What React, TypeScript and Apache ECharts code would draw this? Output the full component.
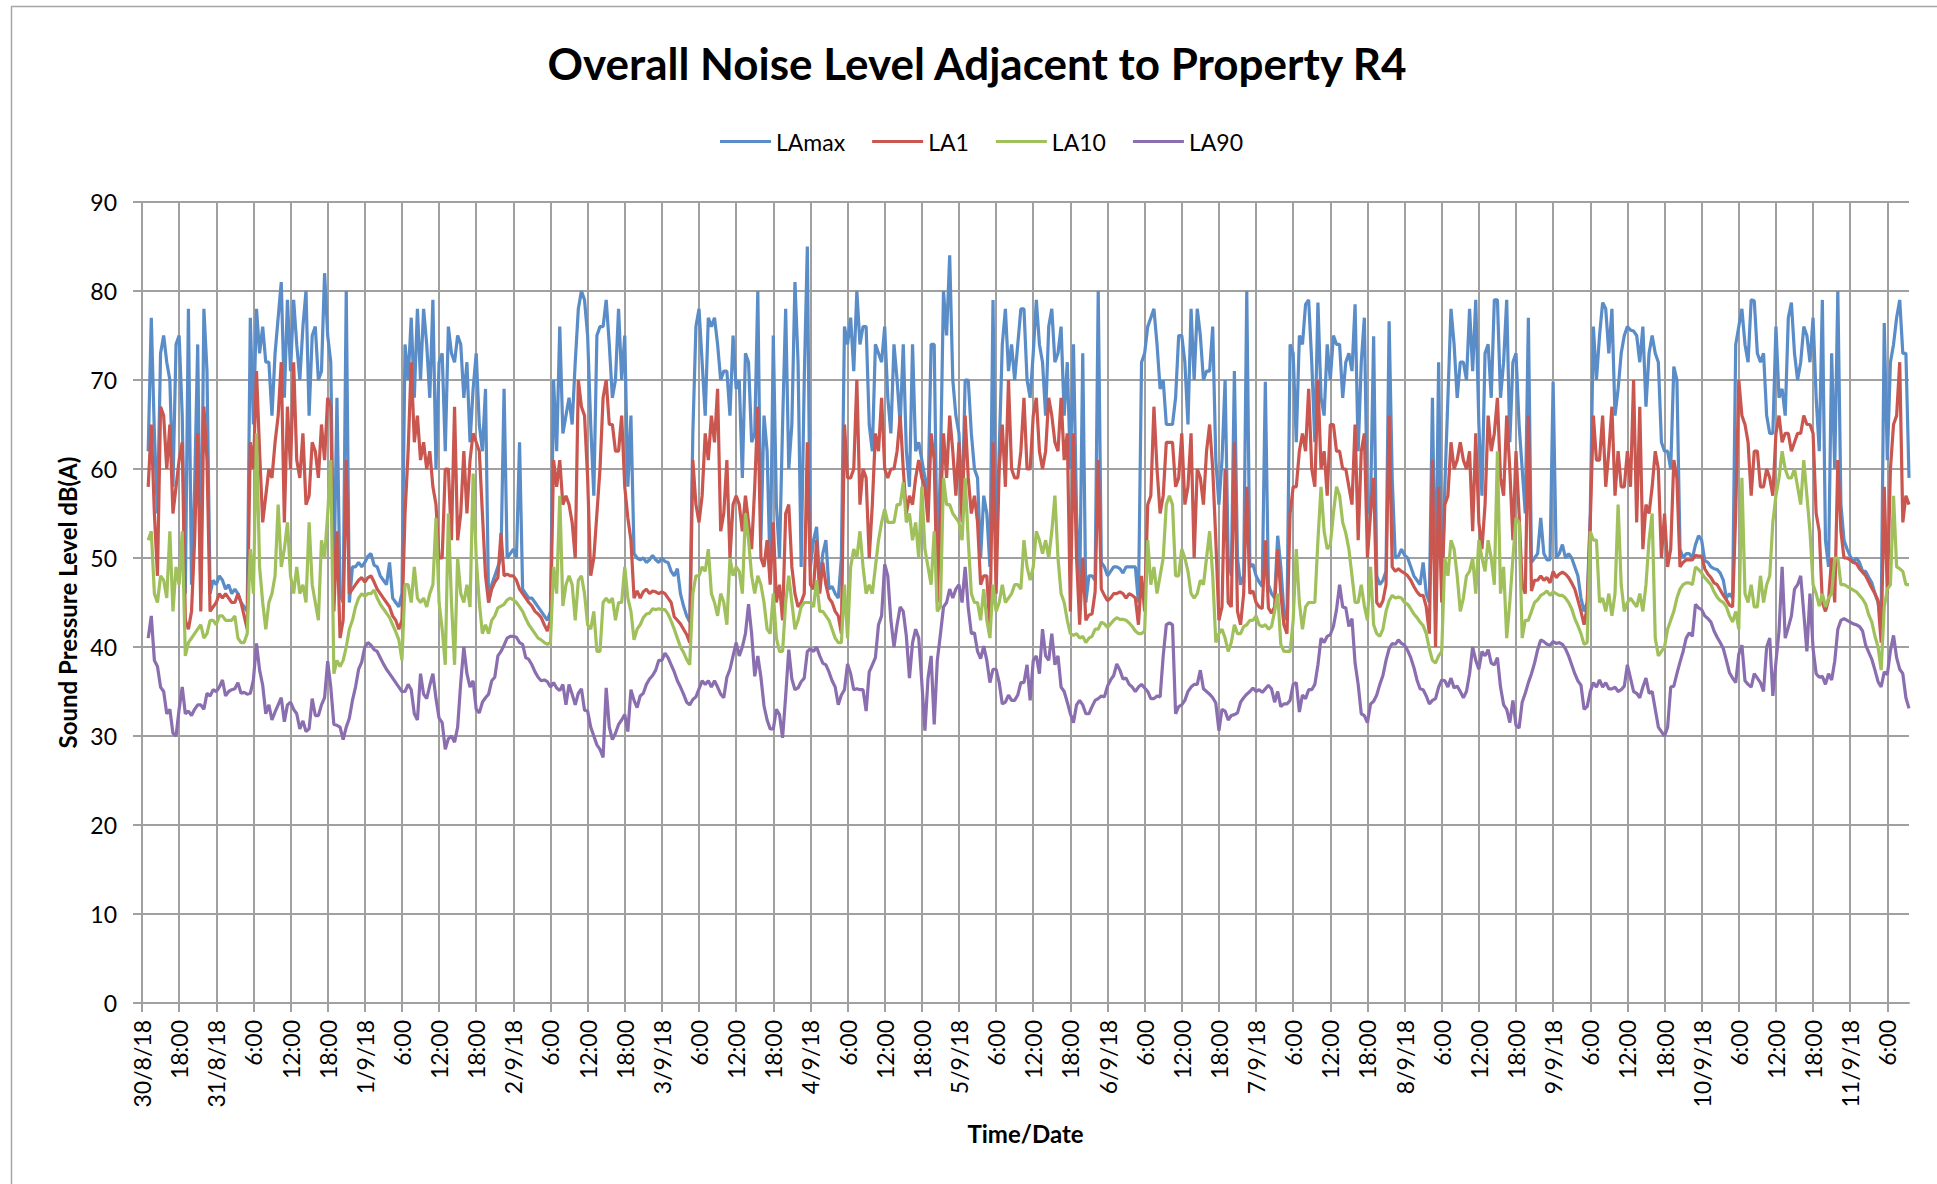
import React, { useEffect, useRef } from "react";
import * as echarts from "echarts";

// Tick labels shown every 6 hours (every 12th half-hour category)
const tickLabels = [
  "30/8/18", "18:00",
  "31/8/18", "6:00", "12:00", "18:00",
  "1/9/18", "6:00", "12:00", "18:00",
  "2/9/18", "6:00", "12:00", "18:00",
  "3/9/18", "6:00", "12:00", "18:00",
  "4/9/18", "6:00", "12:00", "18:00",
  "5/9/18", "6:00", "12:00", "18:00",
  "6/9/18", "6:00", "12:00", "18:00",
  "7/9/18", "6:00", "12:00", "18:00",
  "8/9/18", "6:00", "12:00", "18:00",
  "9/9/18", "6:00", "12:00", "18:00",
  "10/9/18", "6:00", "12:00", "18:00",
  "11/9/18", "6:00",
];

const dayNames = ["30/8", "31/8", "1/9", "2/9", "3/9", "4/9", "5/9", "6/9", "7/9", "8/9", "9/9", "10/9", "11/9"];

// Half-hourly readings, dB(A), starting 30/8/18 12:00
const LAmax = [
  null, null,
  62, 77, 64, 55, 73, 75, 72, 70, 58, 74,
  75, 66, 46, 78, 47, 58, 74, 46, 78, 71,
  46, 47.5, 47, 48, 47.5, 46.5, 47, 46, 46.5, 46,
  45, 44.5, 44, 77, 65, 78, 73, 76, 72, 72,
  66, 73, 77, 81, 68, 79, 71, 79, 74, 70,
  76, 80, 66, 75, 76, 70, 71, 82, 75, 72,
  47, 68, 46, 45, 80, 45, 49, 49, 49.5, 49,
  49.5, 50.2, 50.5, 49.2, 49, 48, 47.5, 47, 49.5, 45.5,
  45, 44.5, 46, 74, 70, 77, 68, 78, 70, 78,
  74, 68, 79, 60, 72, 73, 62, 76, 73, 72,
  75, 74, 68, 72, 63, 69, 73, 65, 62, 69,
  45, 47, 48, 49, 50, 69, 50, 50.5, 51, 50,
  63, 46.5, 46, 45.5, 45.5, 45, 44.5, 44, 43.5, 43,
  44, 70, 62, 76, 64, 66, 68, 65, 72, 78,
  80, 79, 75, 65, 57, 75, 76, 76, 79, 74,
  68, 70, 78, 70, 75, 58, 66, 50.5, 50, 49.8,
  50, 49.5, 49.8, 50.3, 49.8, 49.5, 50, 49.6, 49.5, 48.5,
  48, 48.8, 46, 44.6, 43.5, 42.8, 64, 76, 78, 72,
  66, 77, 76, 77, 74, 70, 71, 71, 66, 75,
  69, 70, 59, 73, 72, 63, 64, 80, 52, 66,
  62, 48, 75, 56, 50, 65, 78, 60, 65, 81,
  72, 49, 70, 85, 49, 52, 53.5, 47, 50.5, 52,
  46.5, 46.8, 46, 45.5, 50, 76, 74, 77, 71, 80,
  74, 76, 76, 65, 62, 74, 73, 72, 76, 68,
  64, 74, 70, 65, 74, 62, 58, 74, 62, 63,
  61, 59, 57, 74, 74, 49, 60, 80, 75, 84,
  70, 66, 64, 55, 70, 70, 64, 60, 59, 50,
  57, 55, 49, 79, 50, 62, 74, 78, 71, 74,
  70, 74, 78, 78, 70, 68, 73, 79, 74, 72,
  66, 76, 78, 72, 73, 76, 66, 72, 60, 74,
  55, 46, 73, 45, 48, 48, 47.5, 80, 49.5, 49,
  48, 48.5, 49, 49, 48.8, 48.3, 49, 49, 49, 49,
  45, 72, 73, 76, 77, 78, 74, 69, 70, 65,
  65, 65, 68, 75, 75, 72, 65, 78, 70, 78,
  75, 70, 71, 71, 76, 61, 56, 61, 70, 50,
  48, 71, 50, 47, 48, 80, 49, 49.3, 48, 47.3,
  46.8, 69.8, 47, 46, 45.5, 52.5, 49, 44, 43, 74,
  73, 63, 75, 74, 78.5, 79, 72, 63, 78.7, 68,
  66, 74, 70, 75, 74, 74, 68, 72, 73, 71,
  78.5, 62, 72, 77, 55, 56, 74.9, 48, 47, 47.5,
  48.5, 76.6, 59, 50, 50.2, 51, 50.3, 50, 49, 48,
  47.5, 47, 49.5, 46, 45, 68, 44, 72, 46, 58,
  68, 78, 74, 68, 72, 72, 70, 78, 71, 79,
  65, 57, 73, 74, 68, 79, 79, 68, 72, 79,
  63, 72, 73, 65, 60, 55, 77, 49.5, 50, 50.5,
  54.5, 50.5, 49.8, 49.8, 69.8, 50, 50.5, 51.5, 50, 50.5,
  50, 49, 48, 45.5, 44, 45, 55, 76, 70, 75,
  78.7, 78, 73, 78, 66, 69, 73, 75, 76, 75.6,
  75.5, 75, 72, 76, 67, 73, 75, 73, 72, 63,
  62, 62, 60, 71.5, 70, 51, 50, 50.5, 50.5, 50,
  51.5, 52.5, 52, 49.7, 49.5, 49, 48.8, 48.7, 48.3, 47.5,
  45.5, 46, 45.5, 74, 76, 78, 74, 72, 79, 78.9,
  73, 72, 73, 66, 64, 64, 76, 68, 69, 66,
  77, 78.7, 73, 70, 72, 76, 75, 72, 77, 68,
  62, 79, 52, 49, 73, 60, 80, 56, 52, 51,
  50.2, 49.5, 50, 49.5, 48.5, 48.5, 47.8, 47.2, 46, 45,
  43, 76.4, 61, 72, 74, 77, 79, 73, 73, 59,
];

const LA1 = [
  null, null,
  58, 65, 55, 48, 67, 66, 60, 65, 55, 58,
  61, 63, 43, 42, 44, 52, 64, 44, 67, 61,
  44, 44.5, 45, 46, 45.5, 46, 45.5, 45, 45, 46,
  45, 43.5, 42, 63, 60, 71, 62, 54, 57, 60,
  59, 63, 66, 72, 54, 67, 60, 72, 61, 59,
  64, 56, 57, 63, 62, 59, 65, 61, 68, 67,
  44, 53, 41, 43, 61, 46, 46.5, 47, 47.5, 47.8,
  47.3, 47.8, 48, 47.3, 46.5, 46, 45.5, 45, 44.5, 43.5,
  43, 42, 43, 55, 62, 72, 63, 66, 61, 63,
  60, 62, 58, 56, 50, 50, 60, 60, 52, 67,
  52, 55, 62, 55, 61, 64, 63, 62, 55, 48,
  45, 46.5, 47.3, 47.8, 52.8, 48, 48.2, 48, 48, 47.5,
  46.5, 46, 45.5, 45, 44.6, 44, 43.7, 43.3, 42.5, 41.8,
  43, 61, 58, 61, 56, 57, 56, 54, 50, 70,
  67, 66, 59, 48, 50, 55, 60, 68, 70, 65,
  65, 62, 62, 66, 58, 54.5, 52, 45.5, 46.3, 45.5,
  46.2, 46.5, 46, 46.3, 46.2, 46, 46.2, 46, 45.5, 45,
  43.4, 43, 42.6, 42, 41.4, 40.5, 61, 56, 54, 57,
  64, 61, 66, 63, 69, 53, 55, 61, 50, 56,
  57, 56, 53, 57, 54, 51, 58, 67, 50, 49,
  52, 47, 54, 45, 47, 43, 55, 56, 49, 46,
  44.5, 45, 46, 63, 47, 46.5, 52, 46, 49.5, 47,
  45.5, 45, 44, 43.5, 41.5, 65, 59, 59, 60, 70,
  56, 60, 59, 50, 56, 64, 62, 68, 60, 59,
  60, 60, 62, 66, 60, 55, 57, 56, 59, 61,
  59, 58, 54, 64, 61, 45, 55, 64, 59, 66,
  62, 57, 63, 54, 66, 59, 55, 57, 54, 47,
  48, 48, 42, 63, 46, 60, 65, 58, 70, 60,
  59, 59, 62, 68, 60, 60, 66, 68, 62, 60,
  62, 68, 66, 63, 62, 68, 61, 64, 44, 64,
  50, 42.5, 50, 43, 43.6, 43.7, 46.2, 61, 46.5, 45.8,
  45.2, 45.5, 46, 46, 46.2, 46, 45.5, 46, 45.8, 45.5,
  42.5, 48, 44, 56, 57, 67, 60, 55, 57, 63,
  63, 63, 58, 59, 64, 56, 58, 64, 50, 60,
  59, 56, 62, 65, 60, 52, 43, 44.5, 60, 45,
  44.5, 63, 44, 42.5, 46, 58, 46, 46.3, 45, 44.5,
  44.3, 52, 44.4, 43.8, 44.5, 51, 46, 42.5, 41.5, 55,
  58, 58, 62, 64, 62, 69, 60, 58, 70, 60,
  62, 57, 65, 65, 62, 62, 60, 60, 58, 56,
  65, 52, 62, 64, 50, 55, 59, 45, 44.5, 45.2,
  47, 66, 49, 48.5, 48.8, 48.5, 48.3, 48, 47.5, 46.8,
  46.2, 45.8, 45.8, 44.5, 41.5, 61, 40, 58, 45, 56,
  57, 63, 60, 61, 63, 61, 60, 62, 53, 64,
  54, 51, 56, 66, 62, 64, 68, 59, 57, 66,
  60, 52, 62, 55, 47, 46, 66, 46.3, 47.5, 47.5,
  48, 47.5, 47.8, 47.2, 48.5, 47.8, 48.2, 48.4, 48.2, 47.8,
  47.2, 46.5, 45.3, 44, 42.5, 44.5, 54, 66, 61, 61,
  66, 58, 62, 67, 57, 62, 58, 58, 62, 58,
  70, 54, 67, 51, 56, 55, 58, 62, 60, 50,
  55, 49, 51, 61, 59, 49, 49.5, 49.8, 49.8, 49.8,
  50.3, 50.2, 50.2, 48.8, 48.2, 47.8, 47.2, 47, 46.4, 45.8,
  45.3, 44.7, 44.5, 55, 70, 66, 65, 63, 57, 62,
  62, 58, 58, 60, 59, 57, 64, 66, 63, 64,
  64, 62, 63, 64, 64, 66, 65, 65, 64, 55,
  53, 45, 44, 45.3, 50, 45, 61, 53, 50, 50,
  49.8, 49.5, 49.4, 48.8, 48.4, 48, 47.3, 46.6, 46, 45.2,
  40.5, 58, 46, 60, 65, 66, 72, 54, 57, 56,
];

const LA10 = [
  null, null,
  52, 53, 46, 45, 48, 47.5, 45.5, 53, 44, 49,
  47, 53, 39, 40.5, 41, 41.5, 42, 42.5, 41, 41.5,
  43, 43, 42.5, 43.5, 43.5, 43, 43, 43, 43.5, 41,
  40.5, 40.5, 41.5, 51, 46, 64, 49, 45, 42, 45,
  46, 48, 56, 49, 51, 54, 48, 46, 49, 46,
  47, 45, 54, 47, 45, 43, 52, 50, 55, 61,
  37, 38.5, 37.8, 38.5, 40, 42, 43, 44.5, 45.5, 46,
  45.7, 46, 46, 46.4, 45.5, 44.8, 44.3, 43.8, 43.3, 42.5,
  41.7, 40.8, 38.5, 47, 47, 45, 49, 45.5, 45, 45.5,
  44.5, 46, 47, 54.5, 45, 42, 38, 55, 45, 38,
  50, 46, 45, 47, 44.5, 59.5, 50, 45, 41.5, 42.5,
  41.5, 43, 43.5, 44.4, 44.6, 44.8, 45.3, 45.5, 45.3, 45,
  44.5, 44, 43.2, 42.5, 42, 41.5, 41, 40.8, 40.5, 40.3,
  40.5, 49, 46, 57, 44.6, 47, 48, 47, 43, 47.5,
  48, 46, 42.5, 42, 44, 39.5, 39.5, 45, 45.5, 45,
  45.5, 43, 45, 45, 49, 45.5, 44, 40.8, 42, 42.5,
  43.3, 43.7, 43.8, 44.3, 44.2, 44.3, 44.2, 44.2, 43.7, 42.9,
  42, 41, 40, 39.4, 38.6, 38, 46, 48, 48, 49,
  48.5, 51, 46, 45, 43.5, 46, 45, 42.5, 50, 48,
  49, 48.5, 46, 55, 52, 48, 46, 48, 47, 45,
  42, 41.5, 46, 41, 39.5, 39.5, 45, 48, 45, 42,
  43, 44.5, 45, 45, 45, 44.5, 47.5, 44, 44, 43.5,
  43, 42, 41, 40.5, 40.5, 47, 41, 49, 51, 50,
  53, 49, 46, 47, 46, 49, 52, 54, 55.5, 54,
  54, 54, 56, 56, 58.5, 54, 55, 52, 54, 50,
  58, 51, 49, 47, 53, 44, 44.5, 59, 56, 56,
  55, 54.5, 54, 52, 59, 52, 46, 45, 45, 43,
  46.5, 43, 41, 47, 44, 45, 47, 45, 45.5, 46,
  47, 47, 46.5, 52, 49, 47.5, 49, 53, 52, 50.5,
  52, 50, 53, 57, 50, 46, 45, 43, 41.5, 41.3,
  41.5, 41, 41.2, 40.5, 41, 41.2, 42, 42, 42.8, 42.6,
  42.2, 42.6, 43, 43.3, 43.1, 43.1, 43, 42.7, 42.3, 41.8,
  41.5, 41.5, 41.8, 52, 47, 49, 46, 48, 50, 56,
  57, 56, 48, 48, 51, 50, 48.5, 46, 45.5, 46,
  47.5, 47, 50, 53, 48, 40.5, 41.5, 42, 41, 39.5,
  40.5, 42.5, 41.5, 41.5, 42.3, 42.5, 43, 43, 43.5, 42.5,
  42.3, 42.5, 42, 42.3, 44, 46, 40.3, 39.5, 39.5, 39.5,
  43, 51, 45, 42, 44.5, 45, 45, 45, 52, 58,
  53, 51, 51.5, 55, 58, 57, 54, 52.8, 51, 48,
  45, 45, 47, 44.6, 43, 49, 42.5, 41.5, 41.2, 42,
  44, 45.2, 45.8, 45.5, 45.6, 45.5, 45, 44.8, 44.3, 43.7,
  43.3, 42.8, 42.4, 41.5, 39.8, 38.5, 38.2, 39, 39.5, 50,
  48, 52, 51, 48, 44, 45.5, 48, 48.5, 50, 46,
  52, 50, 48.5, 52, 50, 47, 62, 46, 49, 41,
  45, 50, 54.5, 54, 41, 43, 43, 44, 45, 45.3,
  45.8, 46, 46.3, 45.8, 46.2, 46, 45.8, 45.8, 45.5, 45,
  44.3, 43.2, 42.4, 41.5, 40.3, 40.5, 53, 52, 52, 45,
  45.5, 44, 46, 43.5, 46, 56, 47, 44, 45, 45.5,
  45, 44.5, 46, 44, 47, 52, 55, 41, 39, 39.5,
  40, 42, 43, 44, 45.5, 46.5, 47, 47.2, 47.2, 47,
  49, 48.7, 48.3, 47.8, 47.4, 47, 46.2, 45.6, 45.2, 45,
  44.5, 43.5, 42.8, 44, 42, 59, 46, 45, 47, 44.5,
  44.5, 48, 45, 47, 48, 54, 57, 59, 62, 60,
  59, 59, 60, 58, 56, 61, 57, 53, 47, 46,
  44.6, 46, 44.5, 45.5, 46, 50, 50, 47, 47, 46.8,
  46.6, 46.4, 46.2, 45.8, 45.4, 44.8, 43.6, 42.8, 41.2, 40,
  37.4, 44.5, 46.5, 47, 57, 49, 48.8, 48.5, 47, 47,
];

const LA90 = [
  null, null,
  41, 43.5, 38.5, 37.8, 35.5, 35, 32.5, 33, 30.3, 30,
  33, 35.5, 32.5, 32.8, 32.3, 33, 33.5, 33.5, 33, 34.8,
  34.5, 35.2, 35, 35.5, 36.3, 34.5, 35, 35.2, 35.3, 36,
  34.8, 34.9, 34.7, 34.8, 36.3, 40.4, 37.4, 35.7, 32.5, 33.5,
  31.8, 32.7, 33.5, 34.3, 31.6, 33.5, 33.8, 33, 32.5, 30.8,
  31.7, 30.5, 30.8, 34.2, 32.3, 32.3, 33.5, 34.3, 38.4, 35.5,
  31.3, 31.2, 31, 29.6, 31, 32, 34, 35.5, 37.5, 38.3,
  40, 40.5, 40.2, 39.7, 39.5, 38.8, 38.1, 37.5, 37, 36.5,
  36, 35.5, 35, 35, 35.8, 35.2, 32.5, 31.8, 37, 34.7,
  34.2, 35.7, 37, 34.2, 32, 31.5, 28.5, 29.7, 30, 29.3,
  31, 36, 40, 37, 35.5, 36.2, 33, 32.6, 33.8, 34.3,
  34.7, 36.2, 36.6, 39, 39.5, 40.2, 41, 41.2, 41.2, 41.1,
  40.5, 40.3, 38.8, 38.6, 38, 37.2, 36.6, 36.2, 36.3, 36.1,
  35.5, 36, 35.4, 35.1, 35.8, 33.5, 35.8, 34.7, 33.5, 34.8,
  35.3, 32.9, 32.8, 31, 30, 29, 28.5, 27.6, 35.4, 31,
  29.6, 30.3, 31.3, 31.8, 32.4, 30.5, 35.2, 34, 33.2, 34.5,
  34.8, 35.8, 36.4, 36.8, 37.4, 38.5, 38.5, 39.3, 38.8, 38,
  37.2, 36.2, 35.5, 34.7, 33.8, 33.5, 34.1, 34.4, 35.3, 36.2,
  35.8, 36.2, 35.5, 36.2, 35.5, 34.7, 34.3, 36.6, 37.5, 39,
  40.5, 39, 40, 41.5, 44.8, 41.5, 36.7, 39, 36.6, 33.4,
  31.8, 30.8, 30.8, 33, 32.4, 29.8, 34.5, 39.7, 36.4, 35.2,
  35.4, 36.1, 36.5, 39.5, 39.8, 39.5, 40, 39, 38.2, 38,
  37.2, 36.2, 35.5, 33.5, 34.6, 35.2, 38.1, 37, 35.2, 35.3,
  35.2, 35.2, 32.8, 37.2, 38, 38.8, 42.5, 43.5, 49.3, 48,
  43, 40, 42.5, 44.5, 44, 41.2, 36.5, 40.5, 42, 41,
  36, 30.6, 36.5, 39, 31.3, 38.5, 41.4, 44.5, 45, 46.5,
  45.5, 46.5, 47, 45, 49, 44.4, 41.5, 41.6, 39.5, 38.7,
  40.1, 38.5, 36, 37.5, 37.5, 36, 33.6, 33.8, 34.6, 34,
  34, 34.6, 36, 36, 38, 34, 38.5, 39, 37, 42,
  39, 38.5, 41.5, 38, 39, 35.5, 35, 33.8, 32.5, 31.5,
  33.5, 34, 33.5, 32.5, 32.5, 33.3, 34, 34.2, 34.5, 34.4,
  35.6, 36.3, 36.8, 38.1, 37.4, 36.4, 36.5, 35.8, 35.5, 35,
  35.5, 35.8, 35.4, 35, 34.2, 34.2, 34.5, 34.4, 39, 42.5,
  42.7, 42.5, 32.5, 33.3, 33.5, 34, 35, 35.5, 35.8, 35.8,
  37.4, 35.3, 35, 34.7, 34.3, 33.7, 30.6, 33, 32.8, 31.8,
  32.3, 32.4, 32.6, 33.8, 34.3, 34.7, 35, 35.4, 35, 35.2,
  34.9, 35.3, 35.7, 35.3, 33.8, 35, 33.3, 33.6, 33.6, 34,
  35.8, 36, 32.7, 34.6, 34.2, 35.2, 35.2, 35.8, 38, 41,
  40.5, 41.2, 41.4, 42.3, 44.2, 47, 44.5, 44.4, 42.3, 43.2,
  38.2, 35.8, 32.5, 32.3, 31.5, 33.6, 33.9, 34.6, 35.8, 36.8,
  38.5, 39.8, 40.4, 40.3, 40.8, 40.4, 40.2, 39.6, 38.8, 37.7,
  36.3, 35.3, 35.2, 34.5, 33.6, 34, 34.2, 35.5, 36.3, 36.2,
  35.5, 36.5, 35.4, 35.6, 35, 34.3, 35, 37, 40, 38.5,
  37.5, 39.5, 39, 39.7, 38.2, 38, 38.8, 35.5, 33.5, 33,
  31.5, 34, 31.2, 30.9, 33.8, 34.8, 36, 37, 38.2, 39.7,
  40.8, 40.6, 40.3, 40.2, 40.6, 40.4, 40.5, 40.3, 39.8, 39,
  38, 37, 36.2, 35.7, 33, 33.3, 35, 36, 35.5, 36.3,
  35.5, 36, 35.3, 35.3, 35.5, 35, 35.2, 35.6, 38, 36.5,
  35, 34.8, 34.3, 35.5, 36.5, 34.8, 35, 33, 31, 30.5,
  30, 31, 35.5, 35.6, 37, 38.3, 39.5, 41, 41.6, 41.2,
  44.8, 44.4, 44.2, 43.5, 43.2, 42.8, 41.8, 41.1, 40.5, 39.8,
  38.5, 37.1, 36.5, 36, 39.2, 40.2, 36.2, 35.8, 35.5, 37,
  36.5, 36, 35, 40, 41, 34.5, 38.3, 41.8, 49, 41,
  42.2, 43.5, 46.5, 47, 48, 43.8, 39.5, 46, 39.8, 37,
  36.6, 36.7, 35.8, 37, 36.3, 38.4, 42, 43, 43.2, 43,
  42.8, 42.6, 42.5, 42.3, 41.8, 40.2, 39.4, 38.6, 37.4, 36.1,
  35.5, 37.2, 36.9, 39.6, 41.3, 38.8, 37.5, 37, 34.3, 33.1,
];

const seriesNames = ["LAmax", "LA1", "LA10", "LA90"];
const seriesColors = ["#5A8CC8", "#C9564F", "#A0C05C", "#8A6EAF"];
const seriesData = [LAmax, LA1, LA10, LA90];

const STEP = 12; // half-hours per labelled tick (6 h)
const categories = LAmax.map((_, i) => {
  const total = 12 * 60 + i * 30;
  const d = Math.floor(total / 1440);
  const m = total % 1440;
  return `${dayNames[d]}/18 ${Math.floor(m / 60)}:${m % 60 === 0 ? "00" : "30"}`;
});

const GRID_COLOR = "#a0a0a0";
const FONT = "Lato";

export default function App() {
  const ref = useRef<HTMLDivElement>(null);

  useEffect(() => {
    if (!ref.current) return;
    const chart = echarts.init(ref.current, null, { renderer: "svg" });
    const option: any = {
      animation: false,
      backgroundColor: "#ffffff",
      textStyle: { fontFamily: FONT },
      graphic: [
        {
          type: "line",
          silent: true,
          shape: { x1: 11.5, y1: 6.5, x2: 11.5, y2: 1184 },
          style: { stroke: "#a6a6a6", lineWidth: 1.5 },
        },
        {
          type: "line",
          silent: true,
          shape: { x1: 11, y1: 6.5, x2: 1937, y2: 6.5 },
          style: { stroke: "#a6a6a6", lineWidth: 1.5 },
        },
        {
          type: "text",
          x: 977,
          y: 63,
          style: {
            text: "Overall Noise Level Adjacent to Property R4",
            fontFamily: FONT,
            fontWeight: "bold",
            fontSize: 44,
            fill: "#000000",
            align: "center",
            verticalAlign: "middle",
            textAlign: "center",
            textVerticalAlign: "middle",
          },
        },
      ],
      legend: {
        data: seriesNames,
        left: 720,
        top: 130,
        padding: 0,
        icon: "rect",
        itemWidth: 51,
        itemHeight: 3,
        itemGap: 27,
        textStyle: { fontFamily: FONT, fontSize: 23, color: "#000000" },
      },
      grid: { left: 142, right: 28, top: 202, bottom: 181, containLabel: false },
      xAxis: {
        type: "category",
        data: categories,
        boundaryGap: false,
        name: "Time/Date",
        nameLocation: "middle",
        nameGap: 118,
        nameTextStyle: { fontFamily: FONT, fontSize: 24, fontWeight: "bold", color: "#000000" },
        axisLine: { show: true, lineStyle: { color: GRID_COLOR, width: 2 } },
        axisTick: { show: true, interval: STEP - 1, length: 9, lineStyle: { color: GRID_COLOR, width: 2 } },
        axisLabel: {
          interval: STEP - 1,
          rotate: 90,
          margin: 17,
          fontFamily: FONT,
          fontSize: 23,
          color: "#000000",
          formatter: (_v: string, idx: number) => (idx % STEP === 0 ? tickLabels[idx / STEP] ?? "" : ""),
        },
        splitLine: { show: true, interval: STEP - 1, lineStyle: { color: GRID_COLOR, width: 2 } },
      },
      yAxis: {
        type: "value",
        min: 0,
        max: 90,
        interval: 10,
        name: "Sound Pressure Level dB(A)",
        nameLocation: "middle",
        nameGap: 61,
        nameTextStyle: { fontFamily: FONT, fontSize: 24, fontWeight: "bold", color: "#000000" },
        axisLine: { show: true, lineStyle: { color: GRID_COLOR, width: 2 } },
        axisTick: { show: true, length: 9, lineStyle: { color: GRID_COLOR, width: 2 } },
        axisLabel: { margin: 25, fontFamily: FONT, fontSize: 23, color: "#000000" },
        splitLine: { show: true, lineStyle: { color: GRID_COLOR, width: 2 } },
      },
      series: seriesNames.map((name, j) => ({
        name,
        type: "line",
        data: seriesData[j],
        symbol: "none",
        showSymbol: false,
        connectNulls: false,
        lineStyle: { width: 3.2, color: seriesColors[j] },
        itemStyle: { color: seriesColors[j] },
        z: 2 + j,
      })),
    };
    chart.setOption(option);
    return () => chart.dispose();
  }, []);

  return (
    <div
      ref={ref}
      style={{ position: "absolute", left: 0, top: 0, width: "1937px", height: "1184px", background: "#fff" }}
    />
  );
}
